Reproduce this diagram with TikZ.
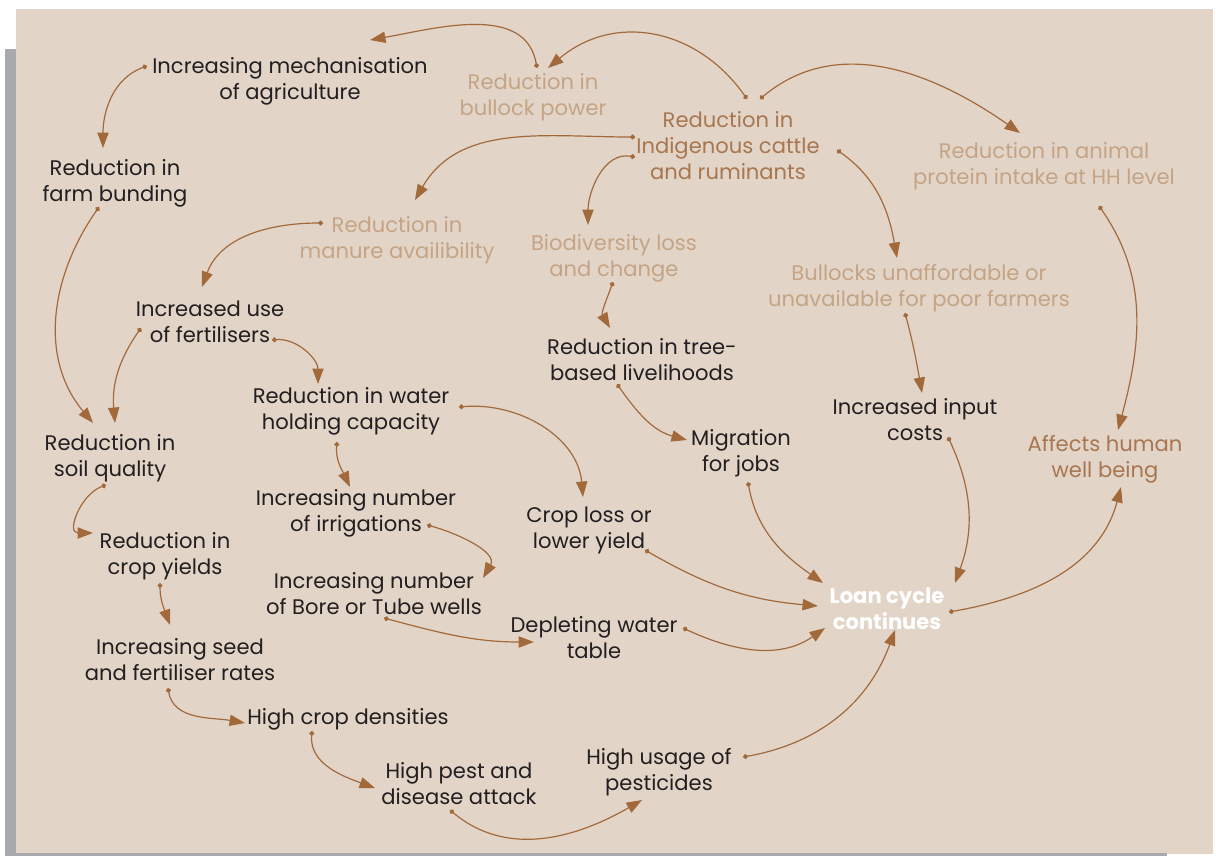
\documentclass[tikz,border=0pt]{standalone}
\usepackage{fontspec}
\setmainfont{Poppins}
\usepackage{tikz}
\usetikzlibrary{arrows.meta,calc}

\definecolor{bgbeige}{HTML}{E2D5C8}
\definecolor{sidegray}{HTML}{A7A9AC}
\definecolor{linkbrown}{HTML}{A2693B}
\definecolor{inkblack}{HTML}{231F20}
\definecolor{inktan}{HTML}{C5A486}
\definecolor{inkbrown}{HTML}{A87650}

\newcommand{\diagfont}{\fontsize{15pt}{18.5pt}\selectfont}

\tikzset{
  factor/.style={align=center, inner sep=0pt, text=inkblack, font=\diagfont, yshift=-0.075cm},
  faint/.style={factor, text=inktan},
  strong/.style={factor, text=inkbrown},
  loanbox/.style={factor, text=white, font=\diagfont\bfseries},
  link/.style={draw=linkbrown, line width=0.85pt,
    {Circle[length=3.5pt]}-{Triangle[length=11pt,width=8pt]}}
}

\begin{document}
\begin{tikzpicture}[x=0.025cm,y=0.025cm]
  % page
  \useasboundingbox (0,0) rectangle (1216,-856);
  \fill[bgbeige] (16,-9) rectangle (1213,-854);
  \fill[sidegray] (5,-49) rectangle (16,-856);
  \fill[sidegray] (5,-853) rectangle (1167,-856);

  % cattle side
  \node[strong] (cattle) at (728,-143) {Reduction in\\Indigenous cattle\\and ruminants};
  \node[faint] (bullock) at (533,-94) {Reduction in\\bullock power};
  \node[faint] (protein) at (1044,-163) {Reduction in animal\\protein intake at HH level};
  \node[faint] (manure) at (397,-237) {Reduction in\\manure availibility};
  \node[faint] (biodiv) at (614,-255) {Biodiversity loss\\and change};
  \node[faint] (unaff) at (919,-285) {Bullocks unaffordable or\\unavailable for poor farmers};
  \node[strong] (human) at (1105,-456) {Affects human\\well being};

  % farm side
  \node[factor] (mech) at (290,-78) {Increasing mechanisation\\of agriculture};
  \node[factor] (bund) at (115,-180) {Reduction in\\farm bunding};
  \node[factor] (fert) at (210,-319) {Increased use\\of fertilisers};
  \node[factor] (soil) at (110,-455) {Reduction in\\soil quality};
  \node[factor] (yield) at (165,-553) {Reduction in\\crop yields};
  \node[factor] (seed) at (180,-657) {Increasing seed\\and fertiliser rates};
  \node[factor] (dens) at (348,-716) {High crop densities};
  \node[factor] (pest) at (459,-781) {High pest and\\disease attack};
  \node[factor] (pesti) at (659,-769) {High usage of\\pesticides};
  \node[factor] (water) at (351,-408) {Reduction in water\\holding capacity};
  \node[factor] (irrig) at (356,-510) {Increasing number\\of irrigations};
  \node[factor] (bore) at (374,-591) {Increasing number\\of Bore or Tube wells};
  \node[factor] (deplete) at (594,-635) {Depleting water\\table};
  \node[factor] (croploss) at (589,-527) {Crop loss or\\lower yield};
  \node[factor] (tree) at (642,-357) {Reduction in tree-\\based livelihoods};
  \node[factor] (migr) at (741,-450) {Migration\\for jobs};
  \node[factor] (input) at (915,-417) {Increased input\\costs};

  \node[loanbox] (loan) at (887,-606) {Loan cycle\\continues};

  % links from the cattle
  \draw[link] ($(bullock)+(4,29)$) to[out=100,in=10] ($(mech)+(80,41)$);
  \draw[link] ($(cattle)+(19,47)$) to[out=125,in=40,looseness=1.1] ($(bullock)+(15,29)$);
  \draw[link] ($(cattle)+(32,47)$) to[out=40,in=145] ($(protein)+(-24,33)$);
  \draw[link] ($(cattle)+(-93,9)$) to[out=180,in=60] ($(manure)+(18,40)$);
  \draw[link] ($(cattle)+(-93,-11)$) to[out=170,in=90] ($(biodiv)+(-26,33)$);
  \draw[link] ($(cattle)+(109,-4)$) to[out=-35,in=100] ($(unaff)+(-22,30)$);
  \draw[link] ($(protein)+(55,-40)$) to[out=-55,in=75] ($(human)+(13,29)$);

  % links on the farm
  \draw[link] ($(mech)+(-143,15)$) to[out=200,in=90] ($(bund)+(-12,35)$);
  \draw[link] ($(bund)+(-16,-24)$) to[out=235,in=130] ($(soil)+(-17,35)$);
  \draw[link] ($(manure)+(-74,17)$) to[out=180,in=70] ($(fert)+(-8,35)$);
  \draw[link] ($(fert)+(-69,-6)$) to[out=235,in=95] ($(soil)+(5,35)$);
  \draw[link] ($(fert)+(62,-18)$) to[out=5,in=90] ($(water)+(-33,27)$);
  \draw[link] ($(water)+(-14,-31)$) to[out=-95,in=115] ($(irrig)+(-6,26)$);
  \draw[link] ($(water)+(108,4)$) to[out=5,in=95] ($(croploss)+(-6,33)$);
  \draw[link] ($(irrig)+(71,-12)$) to[out=-15,in=60] ($(bore)+(109,16)$);
  \draw[link] ($(bore)+(10,-24)$) to[out=-15,in=180] ($(deplete)+(-60,-4)$);
  \draw[link] ($(soil)+(-4,-27)$) to[out=200,in=180,looseness=1.4] ($(yield)+(-72,23)$);
  \draw[link] ($(yield)+(-5,-27)$) to[out=-90,in=110] ($(seed)+(-10,35)$);
  \draw[link] ($(seed)+(-12,-28)$) to[out=-80,in=170] ($(dens)+(-103,-4)$);
  \draw[link] ($(dens)+(-36,-12)$) to[out=-95,in=160] ($(pest)+(-84,-4)$);
  \draw[link] ($(pest)+(-9,-26)$) to[out=-40,in=210] ($(pesti)+(-17,-28)$);
  \draw[link] ($(biodiv)+(-1,-24)$) to[out=-110,in=120] ($(tree)+(-32,32)$);
  \draw[link] ($(tree)+(-25,-24)$) to[out=-55,in=165] ($(migr)+(-54,13)$);
  \draw[link] ($(unaff)+(-14,-25)$) to[out=-75,in=100] ($(input)+(7,27)$);

  % into and out of the loan cycle
  \draw[link] ($(deplete)+(89,10)$) to[out=-25,in=215] ($(loan)+(-62,-19)$);
  \draw[link] ($(croploss)+(56,-20)$) to[out=-30,in=175] ($(loan)+(-69,3)$);
  \draw[link] ($(migr)+(7,-29)$) to[out=-80,in=145] ($(loan)+(-64,26)$);
  \draw[link] ($(input)+(33,-17)$) to[out=-65,in=70] ($(loan)+(68,26)$);
  \draw[link] ($(pesti)+(84,15)$) to[out=10,in=-110] ($(loan)+(8,-21)$);
  \draw[link] ($(loan)+(62,-3)$) to[out=10,in=-105] ($(human)+(16,-28)$);
\end{tikzpicture}
\end{document}
